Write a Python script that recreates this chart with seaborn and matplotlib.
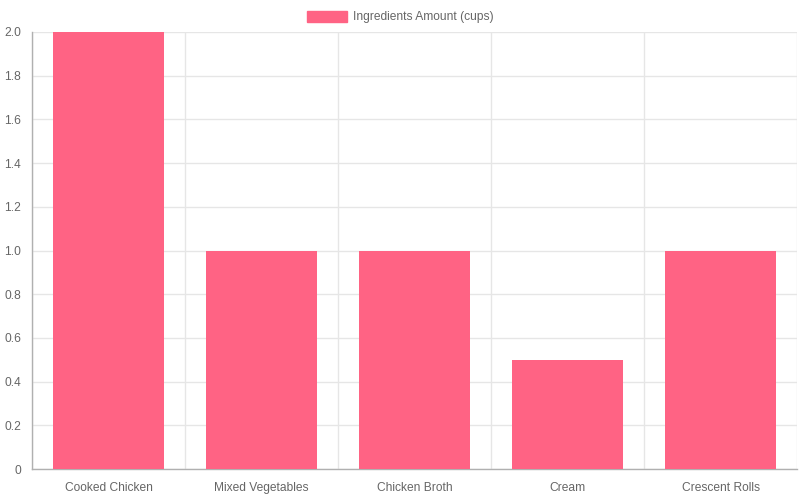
import matplotlib
matplotlib.use("Agg")
import matplotlib.pyplot as plt
import seaborn as sns
import pandas as pd
import numpy as np
from matplotlib.patches import Patch

# 데이터
categories = ["Cooked Chicken", "Mixed Vegetables", "Chicken Broth", "Cream", "Crescent Rolls"]
amounts = [2, 1, 1, 0.5, 1]
y_ticks = [0, 0.2, 0.4, 0.6, 0.8, 1.0, 1.2, 1.4, 1.6, 1.8, 2.0]
y_labels = ["0", "0.2", "0.4", "0.6", "0.8", "1.0", "1.2", "1.4", "1.6", "1.8", "2.0"]
series_name = "Ingredients Amount (cups)"

df = pd.DataFrame({"category": categories, "amount": amounts})

sns.set_style("white")
plt.rcParams['font.family'] = ['Liberation Sans', 'DejaVu Sans']

bar_color = "#FF6384"
text_color = "#666666"
grid_color = "#e6e6e6"
axis_color = "#b0b0b0"
fs = 8.64  # 12px

fig = plt.figure(figsize=(8, 5), dpi=100)
ax = fig.add_axes([32 / 800, 31 / 500, 765 / 800, 437 / 500])

sns.barplot(data=df, x="category", y="amount", color=bar_color, saturation=1,
            width=0.72, ax=ax, zorder=3, linewidth=0)

ax.set_ylim(0, 2.0)
ax.set_xlim(-0.5, len(categories) - 0.5)
ax.set_yticks(y_ticks)
ax.set_yticklabels(y_labels)
ax.set_xlabel("")
ax.set_ylabel("")

# 카테고리 경계 그리드
bounds = np.arange(len(categories) + 1) - 0.5
ax.set_xticks(bounds, minor=True)
ax.grid(axis="y", color=grid_color, linewidth=1, zorder=0)
ax.grid(axis="x", which="minor", color=grid_color, linewidth=1, zorder=0)
ax.grid(axis="x", which="major", visible=False)

ax.tick_params(axis="x", which="major", length=0, pad=15.5, labelsize=fs, labelcolor=text_color)
ax.tick_params(axis="x", which="minor", length=7, color=grid_color, width=1)
ax.tick_params(axis="y", length=4, color=grid_color, width=1, pad=4, labelsize=fs, labelcolor=text_color)
for lbl in ax.get_xticklabels():
    lbl.set_verticalalignment("baseline")

for s in ["top", "right"]:
    ax.spines[s].set_visible(False)
for s in ["left", "bottom"]:
    ax.spines[s].set_color(axis_color)
    ax.spines[s].set_linewidth(1)

handle = Patch(facecolor=bar_color, edgecolor=bar_color)
fig.legend([handle], [series_name], loc="upper center", bbox_to_anchor=(0.5, 1.0),
           frameon=False, fontsize=fs, labelcolor=text_color,
           handlelength=3.33, handleheight=1.0, handletextpad=0.5,
           borderaxespad=0.5)

fig.savefig("out.png", dpi=100)
